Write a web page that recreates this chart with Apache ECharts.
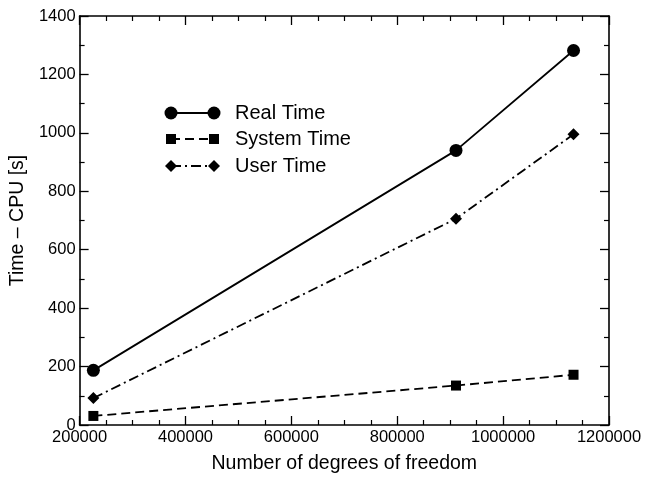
<!DOCTYPE html>
<html><head><meta charset="utf-8">
<script src="https://cdn.jsdelivr.net/npm/echarts@6/dist/echarts.min.js"></script>
<style>html,body{margin:0;padding:0;background:#fff}#c{width:646px;height:479px}</style>
</head><body><div id="c"></div>
<script>
var dof = [226000, 911000, 1133000];
var realTime = [187, 940, 1282];
var systemTime = [31, 135, 172];
var userTime = [92, 706, 995];
var seriesNames = ['Real Time', 'System Time', 'User Time'];
var xTitle = 'Number of degrees of freedom';
var yTitle = 'Time \u2013 CPU [s]';

var FONT = '"Liberation Sans", Arial, sans-serif';
function pairs(ys){ return dof.map(function(x,i){ return [x, ys[i]]; }); }
function plain(v){ return String(v); }
function axisCommon(){
  return {
    axisLine:{show:true, onZero:false, lineStyle:{color:'#000', width:1.6}},
    axisTick:{show:true, inside:true, length:9, lineStyle:{color:'#000', width:1.3}},
    minorTick:{show:true, length:5, lineStyle:{color:'#000', width:1.2}},
    splitLine:{show:false}
  };
}
var xBase = Object.assign(axisCommon(), {type:'value', min:200000, max:1200000, interval:200000});
xBase.minorTick.splitNumber = 4;
var yBase = Object.assign(axisCommon(), {type:'value', min:0, max:1400, interval:200});
yBase.minorTick.splitNumber = 2;

var x0 = Object.assign({}, xBase, {position:'bottom', name:xTitle, nameLocation:'middle', nameGap:29,
  nameTextStyle:{fontFamily:FONT, fontSize:19.5, color:'#000'},
  axisLabel:{fontFamily:FONT, fontSize:16.5, color:'#000', margin:4, formatter:plain}});
var x1 = Object.assign({}, xBase, {position:'top', axisLabel:{show:false}});
var y0 = Object.assign({}, yBase, {position:'left', name:yTitle, nameLocation:'middle', nameGap:51,
  nameTextStyle:{fontFamily:FONT, fontSize:19.5, color:'#000'},
  axisLabel:{fontFamily:FONT, fontSize:16.5, color:'#000', margin:4, formatter:plain}});
var y1 = Object.assign({}, yBase, {position:'right', axisLabel:{show:false}});

var styles = [
  {symbol:'circle', size:13, type:'solid'},
  {symbol:'rect', size:10, type:[9,5]},
  {symbol:'diamond', size:12, type:[10,4,2,4]}
];
var data = [realTime, systemTime, userTime];
var series = data.map(function(d,i){
  return {name:seriesNames[i], type:'line', xAxisIndex:0, yAxisIndex:0, data:pairs(d),
    symbol:styles[i].symbol, symbolSize:styles[i].size, showAllSymbol:true,
    itemStyle:{color:'#000'}, lineStyle:{color:'#000', width:1.8, type:styles[i].type},
    animation:false, z:3};
});

var graphic = [];
var lx0 = 171, lx1 = 214, ly = [113, 139, 166], tx = 235;
seriesNames.forEach(function(n,i){
  graphic.push({type:'line', shape:{x1:lx0, y1:ly[i], x2:lx1, y2:ly[i]},
    style:{stroke:'#000', lineWidth:1.8, lineDash: styles[i].type==='solid'?null:styles[i].type}});
  [lx0, lx1].forEach(function(px){
    var s = styles[i];
    if (s.symbol==='circle') graphic.push({type:'circle', shape:{cx:px, cy:ly[i], r:6.5}, style:{fill:'#000'}});
    else if (s.symbol==='rect') graphic.push({type:'rect', shape:{x:px-5, y:ly[i]-5, width:10, height:10}, style:{fill:'#000'}});
    else graphic.push({type:'polygon', shape:{points:[[px,ly[i]-6],[px+6,ly[i]],[px,ly[i]+6],[px-6,ly[i]]]}, style:{fill:'#000'}});
  });
  graphic.push({type:'text', x:tx, y:ly[i], style:{text:n, font:'20px '+FONT, fill:'#000', verticalAlign:'middle'}});
});

var chart = echarts.init(document.getElementById('c'), null, {renderer:'canvas'});
chart.setOption({
  backgroundColor:'#fff',
  animation:false,
  grid:{left:79, right:37, top:16, bottom:50, containLabel:false},
  xAxis:[x0, x1],
  yAxis:[y0, y1],
  series:series,
  graphic:graphic
});
</script></body></html>
